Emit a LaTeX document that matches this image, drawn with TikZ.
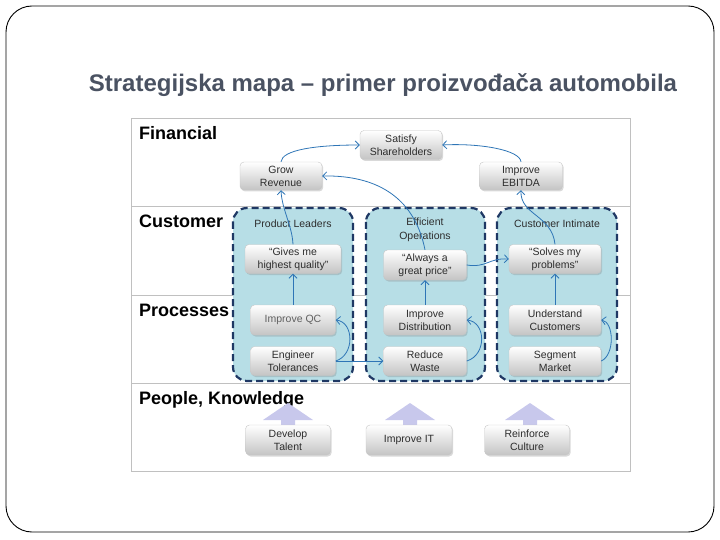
\documentclass[tikz,border=0pt]{standalone}
\usepackage{fontspec}
\setmainfont{Liberation Sans}
\usetikzlibrary{arrows.meta,shadows}
\definecolor{titlecol}{RGB}{74,82,98}
\definecolor{boxfill}{RGB}{183,222,230}
\definecolor{boxline}{RGB}{31,56,100}
\definecolor{framecol}{RGB}{192,192,192}
\definecolor{lav}{RGB}{200,200,236}
\definecolor{conncol}{RGB}{46,117,182}
\definecolor{txt}{RGB}{45,45,45}
\definecolor{nodebot}{RGB}{196,196,196}
\tikzset{
  lane/.style={anchor=base west, font=\bfseries\fontsize{18}{21}\selectfont, text=black, inner sep=0pt},
  groupbox/.style={draw=boxline, fill=boxfill, line width=2.2pt, dash pattern=on 7pt off 4pt, rounded corners=14pt},
  sublabel/.style={font=\fontsize{10.5}{14}\selectfont, text=txt, align=center, inner sep=0pt},
  nodebox/.style={rectangle, rounded corners=4pt, draw=gray!45, top color=white, bottom color=nodebot,
    drop shadow={shadow xshift=1.2pt, shadow yshift=-1.5pt, opacity=0.3},
    font=\fontsize{10.5}{13}\selectfont, text=txt, align=center, inner sep=1pt},
  conn/.style={draw=conncol, line width=0.8pt, -{Straight Barb[length=4pt,width=8pt]}},
  bigarrow/.style={fill=lav, draw=none}
}
\begin{document}
\begin{tikzpicture}[x=1pt,y=-1pt]
\useasboundingbox (0,0) rectangle (720,540);
\draw[line width=0.9pt, rounded corners=26pt] (6,6) rectangle (714,532);
\node[font=\bfseries\fontsize{24}{27}\selectfont, text=titlecol] (title) at (383,85) {Strategijska mapa – primer proizvođača automobila};

% frame
\draw[framecol, line width=0.8pt] (131,118) rectangle (630,471);
\draw[framecol, line width=0.8pt] (131,206) -- (630,206);
\draw[framecol, line width=0.8pt] (131,295) -- (630,295);
\draw[framecol, line width=0.8pt] (131,383) -- (630,383);

% lane labels
\node[lane] (lfin) at (139,140) {Financial};
\node[lane] (lcus) at (139,228) {Customer};
\node[lane] (lpro) at (139,316) {Processes};
\node[lane] (lpeo) at (139,404) {People, Knowledge};

% group boxes
\draw[groupbox] (233,208) rectangle (353,381);
\draw[groupbox] (366,208) rectangle (485,381);
\draw[groupbox] (497,208) rectangle (617,381);

\node[sublabel] (pl) at (293,224) {Product Leaders};
\node[sublabel] (eo) at (425,230) {Efficient\\Operations};
\node[sublabel] (ci) at (557,224) {Customer Intimate};

% lavender block arrows
\foreach \cx in {288,410,530}{
  \fill[bigarrow] (\cx-25,420) -- (\cx,403) -- (\cx+25,420) -- (\cx+7,420) -- (\cx+7,428) -- (\cx-7,428) -- (\cx-7,420) -- cycle;
}

% nodes
\node[nodebox, minimum width=82pt, minimum height=29pt] (sat) at (401,145) {Satisfy\\Shareholders};
\node[nodebox, minimum width=82pt, minimum height=28pt] (grow) at (281,176) {Grow\\Revenue};
\node[nodebox, minimum width=83pt, minimum height=28pt] (ebitda) at (521,176) {Improve\\EBITDA};

\node[nodebox, minimum width=96pt, minimum height=29pt] (gives) at (293,259) {“Gives me\\highest quality”};
\node[nodebox, minimum width=85pt, minimum height=30pt, text=gray!75!black] (qc) at (293,320) {Improve QC};
\node[nodebox, minimum width=85pt, minimum height=29pt] (eng) at (293,361) {Engineer\\Tolerances};

\node[nodebox, minimum width=83pt, minimum height=30pt] (always) at (425,265) {“Always a\\great price”};
\node[nodebox, minimum width=83pt, minimum height=30pt] (dist) at (425,320) {Improve\\Distribution};
\node[nodebox, minimum width=83pt, minimum height=29pt] (waste) at (425,361) {Reduce\\Waste};

\node[nodebox, minimum width=92pt, minimum height=29pt] (solves) at (555,259) {“Solves my\\problems”};
\node[nodebox, minimum width=92pt, minimum height=30pt] (undc) at (555,320) {Understand\\Customers};
\node[nodebox, minimum width=92pt, minimum height=29pt] (seg) at (555,361) {Segment\\Market};

\node[nodebox, minimum width=85pt, minimum height=30pt] (talent) at (288,440) {Develop\\Talent};
\node[nodebox, minimum width=86pt, minimum height=30pt] (it) at (409,440) {Improve IT};
\node[nodebox, minimum width=85pt, minimum height=30pt] (culture) at (527,440) {Reinforce\\Culture};

% connectors
\draw[conn] (grow.north) .. controls (282,150) and (315,145) .. (sat.west);
\draw[conn] (ebitda.north) .. controls (520,150) and (480,143) .. (sat.east);
\draw[conn] (gives.north) .. controls (292,225) and (282,210) .. (grow.south);
\draw[conn] (always.north) .. controls (415,200) and (380,175) .. (grow.east);
\draw[conn] (solves.north) .. controls (552,215) and (520,215) .. (ebitda.south);
\draw[conn] (always.east) .. controls (487,268) and (488,258) .. (solves.west);
\draw[conn] (qc.north) -- (gives.south);
\draw[conn] (dist.north) -- (always.south);
\draw[conn] (undc.north) -- (solves.south);
\draw[conn] (eng.east) -- (waste.west);
\draw[conn] (eng.east) .. controls (355,355) and (354,322) .. (qc.east);
\draw[conn] (waste.east) .. controls (487,355) and (486,322) .. (dist.east);
\draw[conn] (seg.east) .. controls (615,355) and (614,322) .. (undc.east);
\end{tikzpicture}
\end{document}
